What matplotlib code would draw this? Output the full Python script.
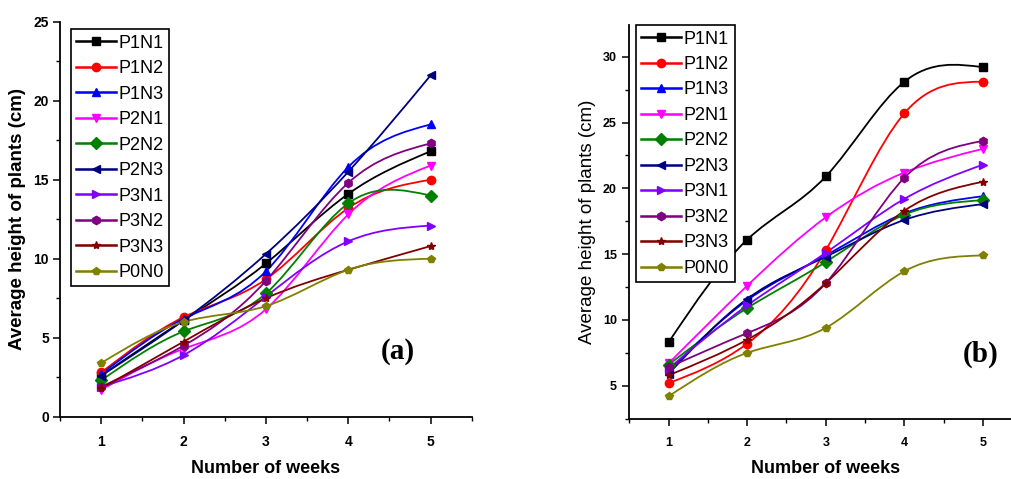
import matplotlib
matplotlib.use("Agg")
import matplotlib.pyplot as plt
import numpy as np
from matplotlib.path import Path
from matplotlib.patches import PathPatch
from matplotlib.lines import Line2D
from matplotlib.ticker import MultipleLocator

weeks = [1, 2, 3, 4, 5]
labels = ["P1N1", "P1N2", "P1N3", "P2N1", "P2N2", "P2N3", "P3N1", "P3N2", "P3N3", "P0N0"]
colors = ["#000000", "#ff0000", "#0000ff", "#ff00ff", "#008000",
          "#000080", "#8000ff", "#800080", "#800000", "#808000"]
markers = ["s", "o", "^", "v", "D", "<", ">", "h", "*", "p"]

# panel (a)
a_P1N1 = [2.6, 6.1, 9.7, 14.1, 16.8]
a_P1N2 = [2.8, 6.3, 8.7, 13.2, 15.0]
a_P1N3 = [2.7, 6.2, 9.2, 15.8, 18.5]
a_P2N1 = [1.7, 4.3, 6.8, 12.8, 15.9]
a_P2N2 = [2.3, 5.4, 7.8, 13.5, 14.0]
a_P2N3 = [2.6, 6.1, 10.3, 15.5, 21.6]
a_P3N1 = [1.9, 3.9, 7.6, 11.1, 12.1]
a_P3N2 = [1.9, 4.5, 8.6, 14.8, 17.3]
a_P3N3 = [1.8, 4.75, 7.5, 9.3, 10.8]
a_P0N0 = [3.4, 6.0, 7.0, 9.3, 10.0]

# panel (b)
b_P1N1 = [8.3, 16.1, 20.9, 28.1, 29.2]
b_P1N2 = [5.2, 8.2, 15.3, 25.7, 28.1]
b_P1N3 = [6.1, 11.5, 14.9, 18.1, 19.4]
b_P2N1 = [6.7, 12.6, 17.8, 21.2, 23.0]
b_P2N2 = [6.6, 10.9, 14.4, 18.0, 19.1]
b_P2N3 = [5.9, 11.6, 14.8, 17.6, 18.8]
b_P3N1 = [6.3, 11.1, 15.1, 19.2, 21.8]
b_P3N2 = [6.4, 9.0, 12.8, 20.8, 23.6]
b_P3N3 = [5.8, 8.5, 12.8, 18.3, 20.5]
b_P0N0 = [4.2, 7.5, 9.4, 13.7, 14.9]

series_a = [a_P1N1, a_P1N2, a_P1N3, a_P2N1, a_P2N2, a_P2N3, a_P3N1, a_P3N2, a_P3N3, a_P0N0]
series_b = [b_P1N1, b_P1N2, b_P1N3, b_P2N1, b_P2N2, b_P2N3, b_P3N1, b_P3N2, b_P3N3, b_P0N0]

lw = 1.3
msize = 6


def spline_path(x, y):
    # natural cubic spline through the points, drawn as bezier segments
    x = np.asarray(x, float)
    y = np.asarray(y, float)
    n = len(x)
    h = np.diff(x)
    A = np.zeros((n, n))
    r = np.zeros(n)
    A[0, 0] = 1
    A[-1, -1] = 1
    for i in range(1, n - 1):
        A[i, i - 1] = h[i - 1]
        A[i, i] = 2 * (h[i - 1] + h[i])
        A[i, i + 1] = h[i]
        r[i] = 6 * ((y[i + 1] - y[i]) / h[i] - (y[i] - y[i - 1]) / h[i - 1])
    M = np.linalg.solve(A, r)
    d = np.zeros(n)
    for i in range(n - 1):
        d[i] = (y[i + 1] - y[i]) / h[i] - h[i] * (2 * M[i] + M[i + 1]) / 6
    d[-1] = (y[-1] - y[-2]) / h[-1] + h[-1] * (M[-2] + 2 * M[-1]) / 6
    verts = [(x[0], y[0])]
    codes = [Path.MOVETO]
    for i in range(n - 1):
        verts += [(x[i] + h[i] / 3, y[i] + d[i] * h[i] / 3),
                  (x[i + 1] - h[i] / 3, y[i + 1] - d[i + 1] * h[i] / 3),
                  (x[i + 1], y[i + 1])]
        codes += [Path.CURVE4] * 3
    return Path(verts, codes)


def draw_panel(ax, series, ylim, ymajor, label_weight, legend_anchor, ypad, tsize):
    for k, ys in enumerate(series):
        ax.add_patch(PathPatch(spline_path(weeks, ys), fill=False,
                               edgecolor=colors[k], lw=lw, zorder=2 + k * 0.01))
        ax.plot(weeks, ys, linestyle="none", marker=markers[k], color=colors[k],
                markersize=msize, zorder=3 + k * 0.01)
    ax.set_xlim(0.5, 5.5)
    ax.set_ylim(*ylim)
    ax.xaxis.set_major_locator(MultipleLocator(1))
    ax.xaxis.set_minor_locator(MultipleLocator(0.5))
    ax.yaxis.set_major_locator(MultipleLocator(ymajor))
    ax.yaxis.set_minor_locator(MultipleLocator(ymajor / 2))
    for s in ["top", "right"]:
        ax.spines[s].set_visible(False)
    for s in ["left", "bottom"]:
        ax.spines[s].set_linewidth(1.3)
    ax.tick_params(which="major", direction="out", length=5, width=1.1)
    ax.tick_params(axis="x", which="major", pad=8)
    ax.tick_params(axis="y", which="major", pad=ypad)
    ax.tick_params(which="minor", direction="out", length=3, width=1.0)
    for t in ax.get_xticklabels() + ax.get_yticklabels():
        t.set_fontweight("bold")
        t.set_fontsize(tsize)
        t.set_family("Liberation Sans")
    ax.set_xlabel("Number of weeks", fontsize=13, fontweight="bold",
                  family="Liberation Sans", labelpad=8)
    ax.set_ylabel("Average height of plants (cm)", fontsize=13.5,
                  fontweight=label_weight, family="Liberation Sans", labelpad=5)
    handles = [Line2D([], [], color=colors[k], marker=markers[k], markersize=msize,
                      lw=lw * 1.4) for k in range(len(labels))]
    leg = ax.legend(handles, labels, loc="upper left", bbox_to_anchor=legend_anchor,
                    borderaxespad=0, fancybox=False, edgecolor="black",
                    prop={"family": "Liberation Sans", "size": 13},
                    handlelength=2.2, handletextpad=0.15, labelspacing=0.47,
                    borderpad=0.3, framealpha=1)
    leg.get_frame().set_linewidth(1.2)


fig = plt.figure(figsize=(10.12, 4.79), dpi=100)
ax1 = fig.add_axes([0.0593, 0.130, 0.4068, 0.8246])
ax2 = fig.add_axes([0.6218, 0.1246, 0.3884, 0.823])

draw_panel(ax1, series_a, (0, 25), 5, "bold", (0.026, 0.981), 3, 10)
draw_panel(ax2, series_b, (2.45, 32.4), 5, "normal", (0.017, 1.0), 4, 9)

ax1.text(0.82, 0.165, "(a)", transform=ax1.transAxes, ha="center", va="center",
         fontsize=21, fontweight="bold", family="Liberation Serif")
ax2.text(0.895, 0.165, "(b)", transform=ax2.transAxes, ha="center", va="center",
         fontsize=21, fontweight="bold", family="Liberation Serif")

fig.savefig("out.png", dpi=100)
